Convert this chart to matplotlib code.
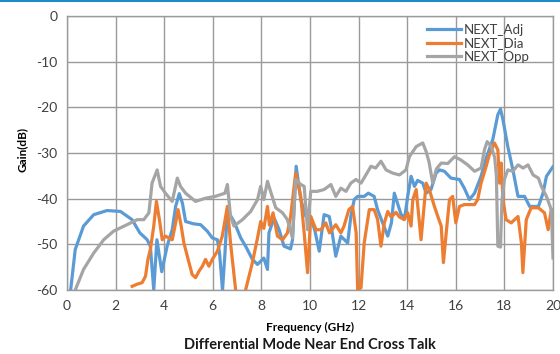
import matplotlib
matplotlib.use("Agg")
import matplotlib.pyplot as plt
from matplotlib.lines import Line2D

# NEXT_Adj (blue)
adj_f = [0.10, 0.15, 0.34, 0.68, 1.1, 1.65, 2.2, 2.68, 3.0, 3.3, 3.43, 3.57, 3.7, 3.9,
         4.12, 4.33, 4.47, 4.62, 4.75, 4.88, 5.2, 5.5, 5.77, 5.98, 6.19, 6.28, 6.4, 6.5,
         6.6, 6.87, 7.15, 7.35, 7.63, 7.84, 8.1, 8.25, 8.31, 8.52, 8.73, 8.93, 9.2, 9.28,
         9.43, 9.62, 9.83, 10.03, 10.2, 10.38, 10.58, 10.79, 10.9, 11.06, 11.27, 11.55,
         11.68, 11.82, 11.96, 12.23, 12.4, 12.64, 12.78, 12.99, 13.2, 13.35, 13.47, 13.6,
         13.75, 13.9, 14.02, 14.16, 14.3, 14.43, 14.64, 14.78, 14.98, 15.19, 15.33, 15.53,
         15.8, 16.15, 16.35, 16.56, 16.77, 17.04, 17.25, 17.52, 17.73, 17.84, 17.94, 18.14,
         18.35, 18.56, 18.83, 19.04, 19.4, 19.59, 19.73, 20.0]
adj_db = [-62, -60, -51.1, -46, -43.5, -42.6, -42.8, -44.6, -47.5, -49, -50.4, -60, -49, -56,
          -50.4, -46.8, -41.7, -38.9, -41, -45, -45.5, -45.7, -47.1, -48.6, -49, -52, -60, -52,
          -42.5, -45, -48.6, -50.4, -53.3, -54.4, -53, -55.5, -47.5, -44.2, -46.8, -50.4, -51, -49,
          -32.9, -40.2, -43.9, -44, -47, -51.5, -43.5, -43.9, -47, -52.6, -48.2, -49.7,
          -43.9, -40.2, -39.5, -39.5, -38.8, -39.5, -42.4, -45.3, -48.2, -45.3, -38.8, -41,
          -43.5, -44, -39.5, -35.1, -37.3, -36, -36.6, -38.8, -38, -34.4, -33.7, -34,
          -35.5, -35.8, -37.7, -40.2, -38.8, -35.1, -31.1, -27.1, -21.6, -20.4, -22.7, -28.6,
          -33.7, -39.5, -39.5, -41.7, -41.7, -38.8, -35.1, -33]

# NEXT_Dia (orange)
dia_f = [2.68, 2.9, 3.09, 3.23, 3.33, 3.43, 3.57, 3.68, 3.8, 3.92, 4.05, 4.33, 4.47, 4.57,
         4.7, 4.81, 5.02, 5.15, 5.29, 5.43, 5.57, 5.7, 5.84, 5.98, 6.19, 6.39, 6.6, 6.73,
         6.94, 7.1, 7.35, 7.63, 7.84, 7.97, 8.1, 8.25, 8.33, 8.48, 8.66, 8.87, 9.07, 9.2,
         9.41, 9.62, 9.76, 9.9, 10.03, 10.25, 10.45, 10.65, 10.8, 11.06, 11.27, 11.4, 11.6,
         11.75, 11.9, 11.96, 12.1, 12.23, 12.44, 12.64, 12.78, 12.92, 13.06, 13.2, 13.34,
         13.54, 13.68, 13.88, 14.02, 14.16, 14.23, 14.37, 14.57, 14.78, 14.91, 15.12, 15.26,
         15.4, 15.49, 15.6, 15.74, 15.87, 16.0, 16.15, 16.35, 16.56, 16.77, 16.9, 17.04,
         17.25, 17.38, 17.59, 17.73, 17.8, 17.87, 17.94, 18.07, 18.28, 18.56, 18.7, 18.76,
         18.9, 19.1, 19.4, 19.65, 19.8, 19.93]
dia_db = [-59.2, -58.7, -58.4, -57, -53.3, -51.1, -46, -40.6, -44.5, -49, -48.2, -49, -45.3, -42.4,
          -46, -49.7, -54, -56.6, -57.3, -55.9, -54.8, -53.3, -54.8, -53.3, -51.5, -48.2, -41.7, -49.7,
          -60, -66, -60, -54, -48.6, -45, -46.5, -41.7, -45.8, -43.1, -48.2, -49, -47.5, -44,
          -34.4, -39.5, -47.5, -56.2, -43.9, -46.8, -46.8, -45.3, -47.5, -45.7, -47.5, -46, -42.4,
          -41.7, -47.5, -60, -59.5, -49.7, -42.4, -42.4, -44.5, -50.4, -45.3, -42.8, -44,
          -43, -44, -44.6, -43.1, -46, -40.2, -38, -49, -36.6, -38, -41.7, -43.9,
          -46, -54, -47.8, -40.2, -39.5, -45.3, -41.7, -41.3, -41.3, -41.3, -40.2, -36.6,
          -32.9, -30.4, -27.8, -29.3, -36.6, -32.2, -40.2, -44.6, -45.3, -43.9, -49.7, -56.2,
          -44.6, -42, -42, -43.1, -46.8, -42.4]

# NEXT_Opp (grey)
opp_f = [0.25, 0.34, 0.68, 1.1, 1.51, 1.92, 2.47, 2.89, 3.16, 3.37, 3.5, 3.71, 3.85, 4.05,
         4.33, 4.54, 4.67, 4.88, 5.29, 5.7, 6.1, 6.5, 6.6, 6.73, 6.87, 7.22, 7.56, 7.84,
         7.97, 8.1, 8.25, 8.4, 8.59, 8.87, 9.07, 9.28, 9.41, 9.62, 9.76, 9.9, 10.03, 10.3,
         10.58, 10.86, 11.06, 11.27, 11.48, 11.68, 11.89, 12.1, 12.3, 12.51, 12.7, 12.92,
         13.13, 13.4, 13.68, 13.95, 14.09, 14.37, 14.64, 14.78, 14.9, 15.05, 15.2, 15.4,
         15.67, 15.95, 16.2, 16.49, 16.77, 17.04, 17.18, 17.29, 17.46, 17.6, 17.67, 17.73,
         17.84, 17.9, 18.0, 18.14, 18.35, 18.56, 18.77, 18.97, 19.18, 19.4, 19.52, 19.73,
         19.93, 20.0]
opp_db = [-63, -60, -55.5, -51.9, -49, -47.1, -45.7, -44.6, -44.6, -43.1, -36.6, -33.7, -37.3, -38.8,
          -40.6, -35.5, -37.3, -38.8, -40.6, -39.9, -39.5, -38.8, -36.9, -43.9, -46, -44.6, -42.8, -40.2,
          -37.3, -40.2, -36.2, -38.8, -42, -43.1, -44.6, -48.6, -35.8, -36.9, -37.3, -46.8, -38.4, -38.4,
          -38, -36.9, -39.5, -37.7, -38.4, -36.6, -35.8, -36.6, -34.8, -32.9, -33.3, -31.8,
          -33.7, -34.4, -34.8, -33.7, -30.8, -28.6, -27.8, -29.7, -32, -36.6, -33.5, -32.2,
          -32.3, -30.8, -31.5, -32.6, -34, -33.3, -29.3, -27.5, -28.6, -31, -35, -50.4,
          -50.6, -40.2, -35.8, -33.7, -34, -32.6, -33.3, -32.6, -34.8, -35.5, -37.3, -39.5,
          -42.4, -53]

x_ticks = [0, 2, 4, 6, 8, 10, 12, 14, 16, 18, 20]
y_ticks = [0, -10, -20, -30, -40, -50, -60]

plt.rcParams['font.family'] = ['Lato', 'DejaVu Sans']
plt.rcParams['axes.unicode_minus'] = False

fig = plt.figure(figsize=(5.6, 3.54), dpi=100)
ax = fig.add_axes([67 / 560, 1 - 290 / 354, 486 / 560, 274 / 354])

ax.plot(adj_f, adj_db, color='#5b9bd5', lw=2.3, label='NEXT_Adj')
ax.plot(dia_f, dia_db, color='#ed7d31', lw=2.3, label='NEXT_Dia')
ax.plot(opp_f, opp_db, color='#a5a5a5', lw=2.3, label='NEXT_Opp')

ax.set_xlim(0, 20)
ax.set_ylim(-60, 0)
ax.set_xticks(x_ticks)
ax.set_yticks(y_ticks)
ax.grid(True, color='#9a9a9a', lw=1.0)
ax.set_axisbelow(True)
for s in ax.spines.values():
    s.set_color('#9a9a9a')
    s.set_linewidth(1.0)
ax.tick_params(length=0, labelsize=10, colors='#404040', pad=7)

leg = ax.legend(loc='upper right', bbox_to_anchor=(0.968, 1.0), frameon=False,
                fontsize=9.5, handlelength=2.6, handletextpad=0.2, labelspacing=0.1,
                borderaxespad=0.2)
for t in leg.get_texts():
    t.set_color('#404040')

fig.text(310 / 560, 1 - 327 / 354, 'Frequency (GHz)', ha='center', va='center',
         fontsize=8.5, fontweight='bold', color='black')
fig.text(310 / 560, 1 - 345 / 354, 'Differential Mode Near End Cross Talk', ha='center',
         va='center', fontsize=10.5, fontweight='bold', color='#1a1a1a')
fig.text(22 / 560, 1 - 150 / 354, 'Gain(dB)', ha='center', va='center', rotation=90,
         fontsize=8.5, fontweight='bold', color='black')

# thin blue border at the top of the picture
fig.add_artist(Line2D([0, 1], [0.998, 0.998], transform=fig.transFigure,
                      color='#1b8bc9', lw=1.5))

fig.savefig('out.png', dpi=100)
